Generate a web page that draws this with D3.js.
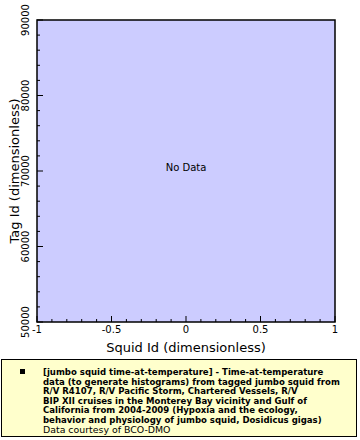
<!DOCTYPE html>
<html>
<head>
<meta charset="utf-8">
<script src="https://cdn.jsdelivr.net/npm/d3@7"></script>
<style>
  body { margin: 0; background: #fff; }
  svg text { font-family: "DejaVu Sans", sans-serif; }
</style>
</head>
<body>
<svg id="chart" width="360" height="440"></svg>
<script>
(function () {
  'use strict';

  // axis ranges and ticks
  const xDomain = [-1, 1];
  const yDomain = [50000, 90000];
  const xMajorTicks = [-1, -0.5, 0, 0.5, 1];
  const xTickLabels = ['-1', '-0.5', '0', '0.5', '1'];
  const yMajorTicks = [50000, 60000, 70000, 80000, 90000];
  const yTickLabels = ['50000', '60000', '70000', '80000', '90000'];
  const legendLines = [
    '[jumbo squid time-at-temperature] - Time-at-temperature',
    'data (to generate histograms) from tagged jumbo squid from',
    'R/V R4107, R/V Pacific Storm, Chartered Vessels, R/V',
    'BIP XII cruises in the Monterey Bay vicinity and Gulf of',
    'California from 2004-2009 (Hypoxia and the ecology,',
    'behavior and physiology of jumbo squid, Dosidicus gigas)'
  ];
  const courtesy = 'Data courtesy of BCO-DMO';

  const svg = d3.select('#chart');
  const L = 37, R = 335, T = 20, B = 322;

  const x = d3.scaleLinear().domain(xDomain).range([L, R]);
  const y = d3.scaleLinear().domain(yDomain).range([B, T]);

  svg.append('rect')
    .attr('x', L).attr('y', T)
    .attr('width', R - L).attr('height', B - T)
    .attr('fill', '#ccccff')
    .attr('stroke', '#000').attr('stroke-width', 1.5);

  // minor ticks
  const xMinor = d3.range(-10, 11).map(d => d / 10);
  const yMinor = d3.range(50000, 90001, 2000);

  const g = svg.append('g');
  g.selectAll('line.xm').data(xMinor).enter().append('line')
    .attr('x1', d => x(d)).attr('x2', d => x(d))
    .attr('y1', B).attr('y2', d => B - (xMajorTicks.includes(d) ? 6 : 3))
    .attr('stroke', '#000');
  g.selectAll('line.ym').data(yMinor).enter().append('line')
    .attr('y1', d => y(d)).attr('y2', d => y(d))
    .attr('x1', L).attr('x2', d => L + (yMajorTicks.includes(d) ? 6 : 3))
    .attr('stroke', '#000');

  g.selectAll('text.xl').data(xMajorTicks).enter().append('text')
    .attr('x', d => x(d)).attr('y', B + 11)
    .attr('text-anchor', 'middle')
    .attr('font-size', 10)
    .text((d, i) => xTickLabels[i]);

  g.selectAll('text.yl').data(yMajorTicks).enter().append('text')
    .attr('transform', d => `translate(${L - 8},${y(d)}) rotate(-90)`)
    .attr('text-anchor', 'middle')
    .attr('font-size', 10)
    .text((d, i) => yTickLabels[i]);

  svg.append('text')
    .attr('x', (L + R) / 2).attr('y', 352)
    .attr('text-anchor', 'middle')
    .attr('font-size', 13)
    .text('Squid Id (dimensionless)');

  svg.append('text')
    .attr('transform', `translate(19,${(T + B) / 2}) rotate(-90)`)
    .attr('text-anchor', 'middle')
    .attr('font-size', 13)
    .text('Tag Id (dimensionless)');

  svg.append('text')
    .attr('x', (L + R) / 2).attr('y', (T + B) / 2)
    .attr('text-anchor', 'middle')
    .attr('font-size', 10)
    .text('No Data');

  // legend
  svg.append('rect')
    .attr('x', 1.5).attr('y', 359.5)
    .attr('width', 355).attr('height', 77)
    .attr('fill', '#ffffcc')
    .attr('stroke', '#000').attr('stroke-width', 1);

  svg.append('rect')
    .attr('x', 20).attr('y', 369)
    .attr('width', 5).attr('height', 5)
    .attr('fill', '#000');

  const lg = svg.append('g');
  lg.selectAll('text').data(legendLines).enter().append('text')
    .attr('x', 43).attr('y', (d, i) => 375 + i * 9.6)
    .attr('font-size', 9.5)
    .attr('font-weight', 'bold')
    .style('font-family', '"DejaVu Sans Condensed", "DejaVu Sans", sans-serif')
    .text(d => d);

  svg.append('text')
    .attr('x', 43).attr('y', 375 + 6 * 9.6)
    .attr('font-size', 9.4)
    .text(courtesy);
}());
</script>
</body>
</html>
